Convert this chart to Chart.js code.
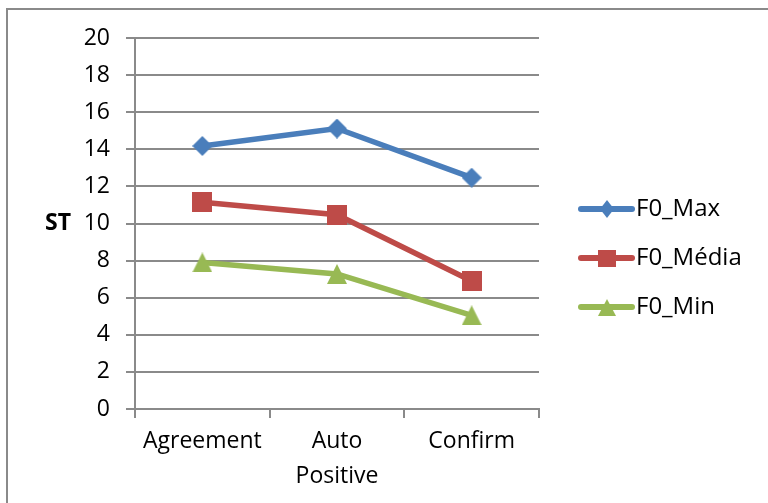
<!DOCTYPE html>
<html>
<head>
<meta charset="utf-8">
<script src="https://cdn.jsdelivr.net/npm/chart.js@4/dist/chart.umd.min.js"></script>
<style>
  html, body { margin: 0; padding: 0; background: #fff; }
  #wrap { position: relative; width: 768px; height: 503px; }
  #frame { position: absolute; left: 6px; top: 8px; width: 800px; height: 600px;
           border: 2px solid #8a8a8a; box-sizing: border-box; pointer-events: none; }
  canvas#chart { position: absolute; left: 0; top: 0; }
</style>
</head>
<body>
<div id="wrap">
  <canvas id="chart" width="768" height="503"></canvas>
  <div id="frame"></div>
</div>
<script>
// Categories and series (semitones)
const categories = ['Agreement', ['Auto', 'Positive'], 'Confirm'];
const f0Max   = [14.18, 15.12, 12.47];
const f0Media = [11.15, 10.47, 6.9];
const f0Min   = [7.9, 7.28, 5.05];
const yTicks  = [0, 2, 4, 6, 8, 10, 12, 14, 16, 18, 20];

const FONT = '"Open Sans", Carlito, Calibri, sans-serif';

// Marker sprites, centred on their own box so the data point sits in the middle
function makeMarker(shape, color, w, h) {
  const c = document.createElement('canvas');
  c.width = w; c.height = h;
  const g = c.getContext('2d');
  g.fillStyle = color;
  g.beginPath();
  if (shape === 'diamond') {
    g.moveTo(w / 2, 0); g.lineTo(w, h / 2); g.lineTo(w / 2, h); g.lineTo(0, h / 2);
  } else if (shape === 'square') {
    g.rect(0, 0, w, h);
  } else {
    g.moveTo(w / 2, 0); g.lineTo(w, h); g.lineTo(0, h);
  }
  g.closePath();
  g.fill();
  return c;
}

const series = [
  { label: 'F0_Max',   data: f0Max,   color: '#4A7EBB', shape: 'diamond' },
  { label: 'F0_Média', data: f0Media, color: '#BE4B48', shape: 'square' },
  { label: 'F0_Min',   data: f0Min,   color: '#98B954', shape: 'triangle' }
];
series.forEach(s => {
  s.marker = makeMarker(s.shape, s.color, 20, 20);
  s.legendMarker = makeMarker(s.shape, s.color, s.shape === 'diamond' ? 14 : 18, s.shape === 'diamond' ? 18 : 17);
});

// Y axis title drawn horizontally, plus a line-and-marker legend on the right
const extras = {
  id: 'extras',
  afterDraw(chart) {
    const ctx = chart.ctx;
    const yScale = chart.scales.y;
    ctx.save();
    ctx.fillStyle = '#000';
    ctx.font = 'bold 23px ' + FONT;
    ctx.textAlign = 'center';
    ctx.textBaseline = 'middle';
    ctx.fillText('ST', 58, yScale.getPixelForValue(10));

    const x0 = 581, x1 = 632, top = 209, gap = 49;
    series.forEach((s, i) => {
      const y = top + i * gap;
      ctx.strokeStyle = s.color;
      ctx.lineWidth = 6;
      ctx.lineCap = 'round';
      ctx.beginPath();
      ctx.moveTo(x0, y);
      ctx.lineTo(x1, y);
      ctx.stroke();
      const m = s.legendMarker;
      ctx.drawImage(m, Math.round((x0 + x1) / 2 - m.width / 2), Math.round(y - m.height / 2));
      ctx.fillStyle = '#000';
      ctx.font = '24px ' + FONT;
      ctx.textAlign = 'left';
      ctx.fillText(s.label, 636, y);
    });
    ctx.restore();
  }
};

new Chart(document.getElementById('chart'), {
  type: 'line',
  data: {
    labels: categories,
    datasets: series.map(s => ({
      label: s.label,
      data: s.data,
      borderColor: s.color,
      backgroundColor: s.color,
      borderWidth: 5.5,
      pointStyle: s.marker,
      pointRadius: 10,
      pointHoverRadius: 10,
      pointBorderWidth: 0,
      tension: 0,
      fill: false
    }))
  },
  options: {
    responsive: false,
    animation: false,
    events: [],
    layout: { padding: { left: 0, right: 229, top: 38, bottom: 0 } },
    plugins: { legend: { display: false }, tooltip: { enabled: false } },
    scales: {
      x: {
        type: 'category',
        offset: true,
        grid: {
          offset: true,
          drawOnChartArea: false,
          drawTicks: true,
          tickLength: 9,
          color: '#8a8a8a',
          lineWidth: 2
        },
        border: { display: true, color: '#8a8a8a', width: 2 },
        ticks: {
          color: '#000',
          font: { family: FONT, size: 23, lineHeight: 1.52 },
          padding: 6,
          maxRotation: 0,
          autoSkip: false
        },
        afterFit(scale) { scale.height = 503 - 409; }
      },
      y: {
        min: 0,
        max: 20,
        afterBuildTicks(scale) { scale.ticks = yTicks.map(v => ({ value: v })); },
        grid: {
          color: '#8a8a8a',
          lineWidth: 2,
          drawTicks: true,
          tickLength: 9
        },
        border: { display: true, color: '#8a8a8a', width: 2 },
        ticks: {
          color: '#000',
          font: { family: FONT, size: 23 },
          padding: 16
        },
        afterFit(scale) { scale.width = 135; }
      }
    }
  },
  plugins: [extras]
});
</script>
</body>
</html>
